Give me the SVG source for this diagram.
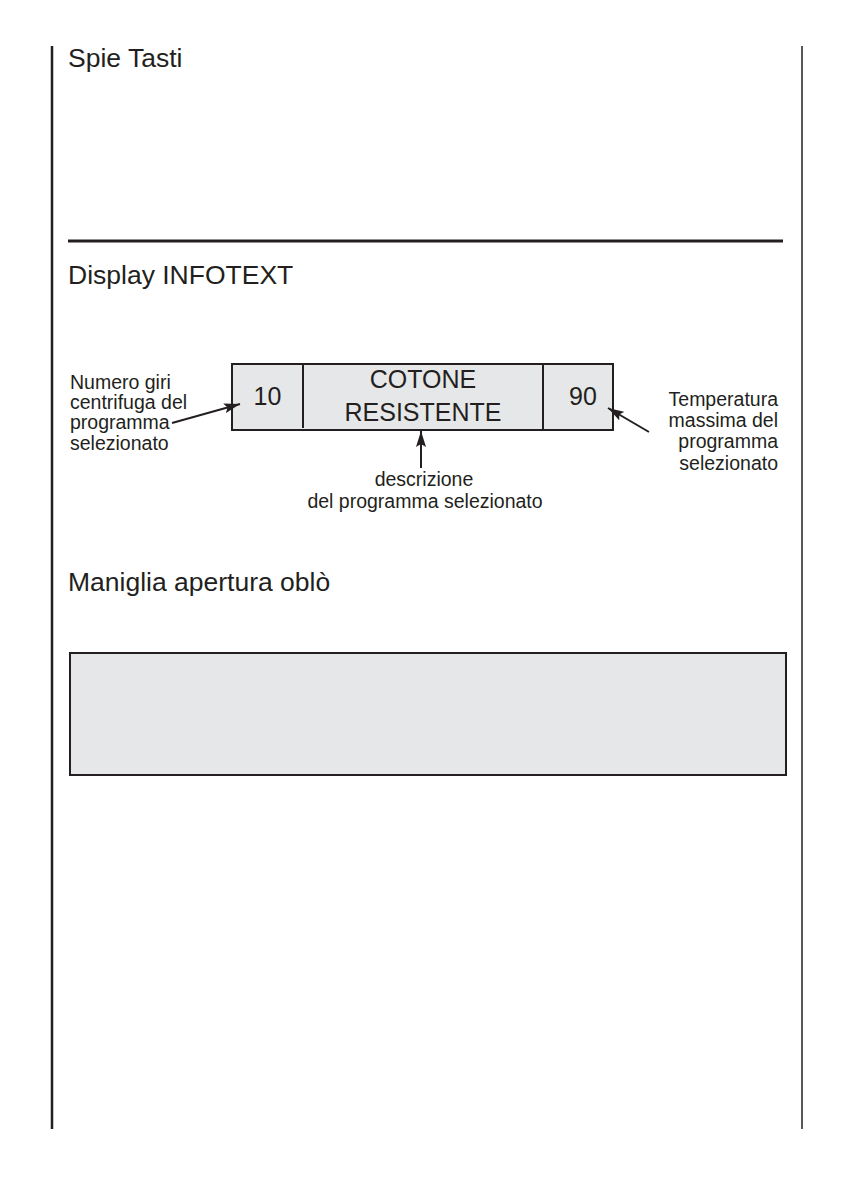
<svg xmlns="http://www.w3.org/2000/svg" width="844" height="1191" viewBox="0 0 844 1191">
<defs>
<style>
.t{font-family:"Liberation Sans",Arial,sans-serif;fill:#231f20}
.h{font-size:26.5px}
.d{font-size:25px}
.a{font-size:19.5px}
.ln{stroke:#231f20;fill:none}
.box{fill:#e6e7e8;stroke:#231f20;stroke-width:2}
</style>
<marker id="ah2" viewBox="0 0 16 10" refX="16" refY="5" markerWidth="16" markerHeight="10" orient="auto" markerUnits="userSpaceOnUse">
<path d="M0,0 L16,5 L0,10 L3,5 Z" fill="#231f20"/>
</marker>
</defs>
<rect width="844" height="1191" fill="#fff"/>
<g id="page-frame">
<line class="ln" x1="52" y1="46" x2="52" y2="1129" stroke-width="2.5"/>
<line class="ln" x1="802" y1="46" x2="802" y2="1129" stroke-width="1.5"/>
<line class="ln" x1="68" y1="241" x2="783" y2="241" stroke-width="3"/>
</g>
<g id="headings">
<text class="t h" x="68" y="67">Spie Tasti</text>
<text class="t h" x="68" y="284">Display INFOTEXT</text>
<text class="t h" x="68" y="591">Maniglia apertura oblò</text>
</g>
<g id="display">
<rect class="box" x="232" y="364" width="381" height="66"/>
<line class="ln" x1="303" y1="364" x2="303" y2="428" stroke-width="2"/>
<line class="ln" x1="543" y1="364" x2="543" y2="430" stroke-width="2"/>
<text class="t d" x="267.5" y="405" text-anchor="middle">10</text>
<text class="t d" x="423" y="388" text-anchor="middle">COTONE</text>
<text class="t d" x="423" y="421" text-anchor="middle">RESISTENTE</text>
<text class="t d" x="583" y="405" text-anchor="middle">90</text>
</g>
<g id="label-spin">
<text class="t a" x="70" y="389">Numero giri</text>
<text class="t a" x="70" y="409">centrifuga del</text>
<text class="t a" x="70" y="429">programma</text>
<text class="t a" x="70" y="450">selezionato</text>
</g>
<g id="label-temp">
<text class="t a" x="778" y="406" text-anchor="end">Temperatura</text>
<text class="t a" x="778" y="427" text-anchor="end">massima del</text>
<text class="t a" x="778" y="448" text-anchor="end">programma</text>
<text class="t a" x="778" y="470" text-anchor="end">selezionato</text>
</g>
<g id="label-desc">
<text class="t a" x="424" y="486" text-anchor="middle">descrizione</text>
<text class="t a" x="425" y="508" text-anchor="middle">del programma selezionato</text>
</g>
<g id="connectors">
<line class="ln" x1="172" y1="423" x2="240" y2="404" stroke-width="2" marker-end="url(#ah2)"/>
<line class="ln" x1="421" y1="468" x2="421" y2="431" stroke-width="2" marker-end="url(#ah2)"/>
<line class="ln" x1="649" y1="432" x2="608" y2="408" stroke-width="2" marker-end="url(#ah2)"/>
</g>
<g id="handle-box">
<rect class="box" x="70" y="653" width="716" height="122"/>
</g>
</svg>
